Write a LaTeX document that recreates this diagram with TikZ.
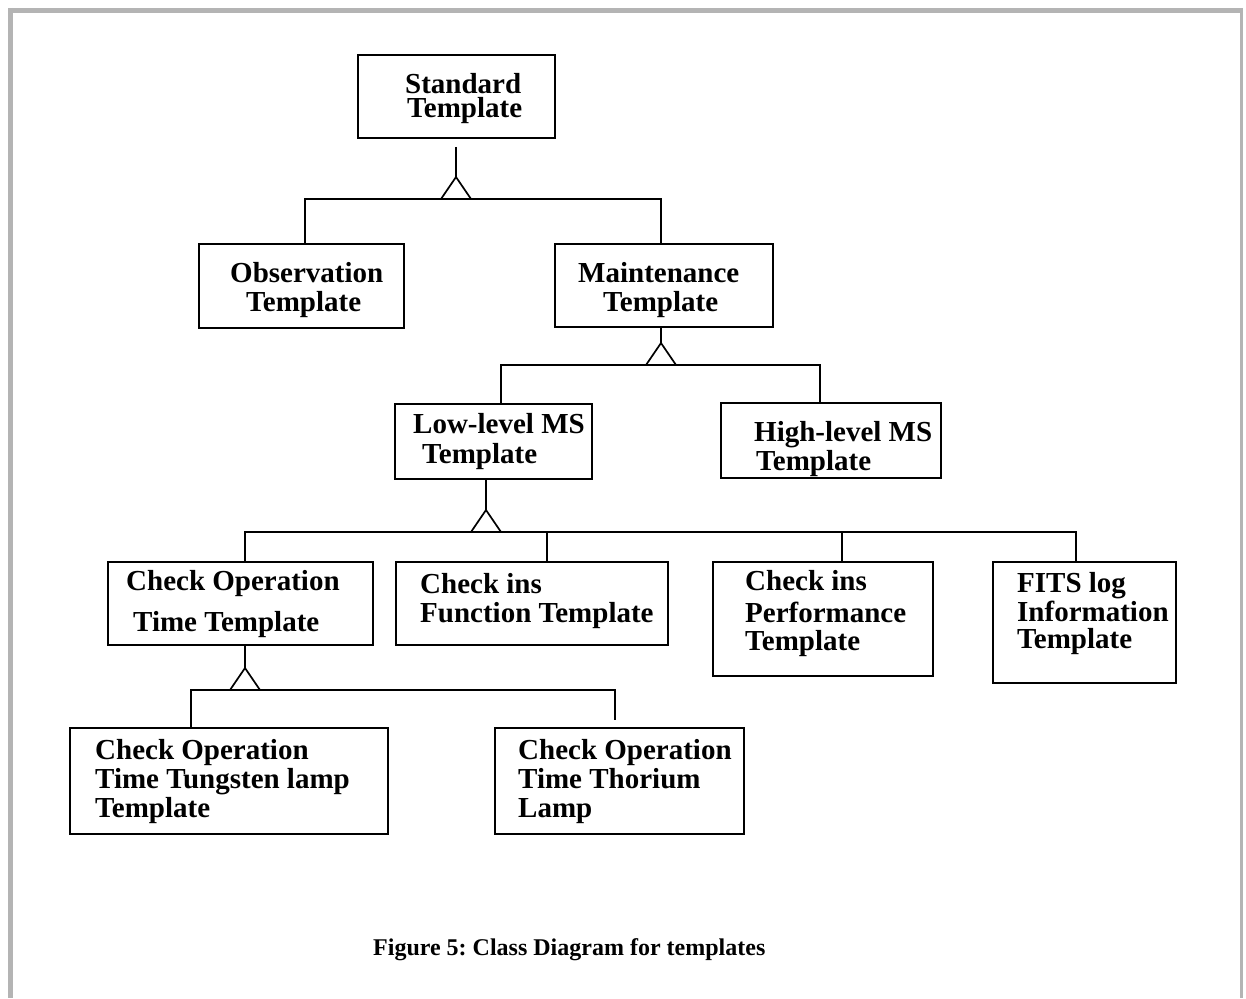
\documentclass[tikz,border=0pt]{standalone}
\usepackage{fontspec}
\setmainfont{Liberation Serif}
\usetikzlibrary{calc}
\frenchspacing
\definecolor{framegray}{RGB}{180,180,180}
\tikzset{
  classbox/.style={draw, line width=1.7pt, rectangle, inner sep=0pt},
  label/.style={anchor=base west, inner sep=0pt, font=\bfseries\fontsize{29}{29}\selectfont},
  captiontext/.style={anchor=base west, inner sep=0pt, font=\bfseries\fontsize{24}{24}\selectfont},
  link/.style={line width=1.7pt},
  inherit/.pic={\draw[link, fill=white] (0,0) -- (-15,22) -- (15,22) -- cycle;}
}
\begin{document}
\begin{tikzpicture}[x=1pt, y=-1pt]
\useasboundingbox (0,0) rectangle (1246,998);
% page frame (top, left and right edges)
\draw[framegray, line width=5pt] (8,10.5) -- (1243,10.5);
\draw[framegray, line width=5pt] (10.5,8) -- (10.5,998);
\draw[framegray, line width=3.5pt] (1241.5,8) -- (1241.5,998);

% class boxes
\node[classbox, minimum width=197pt, minimum height=83pt]  (std)  at (456.5,96.5) {};
\node[classbox, minimum width=205pt, minimum height=84pt]  (obs)  at (301.5,286) {};
\node[classbox, minimum width=218pt, minimum height=83pt]  (mnt)  at (664,285.5) {};
\node[classbox, minimum width=197pt, minimum height=75pt]  (low)  at (493.5,441.5) {};
\node[classbox, minimum width=220pt, minimum height=75pt]  (high) at (831,440.5) {};
\node[classbox, minimum width=265pt, minimum height=83pt]  (cot)  at (240.5,603.5) {};
\node[classbox, minimum width=272pt, minimum height=83pt]  (fun)  at (532,603.5) {};
\node[classbox, minimum width=220pt, minimum height=114pt] (perf) at (823,619) {};
\node[classbox, minimum width=183pt, minimum height=121pt] (fits) at (1084.5,622.5) {};
\node[classbox, minimum width=318pt, minimum height=106pt] (tung) at (229,781) {};
\node[classbox, minimum width=249pt, minimum height=106pt] (thor) at (619.5,781) {};

% class names
\node[label, text depth=0pt] (std1) at (405,93) {Standard};
\node[label, text height=18pt] (std2) at (407,117) {Template};
\node[label] (obs1) at (230,282) {Observation};
\node[label] (obs2) at (246,311) {Template};
\node[label] (mnt1) at (578,282) {Maintenance};
\node[label] (mnt2) at (603,311) {Template};
\node[label] (low1) at (413,433) {Low-level MS};
\node[label] (low2) at (422,463) {Template};
\node[label] (high1) at (754,441) {High-level MS};
\node[label] (high2) at (756,470) {Template};
\node[label] (cot1) at (126,590) {Check Operation};
\node[label] (cot2) at (133,631) {Time Template};
\node[label] (fun1) at (420,593) {Check ins};
\node[label] (fun2) at (420,622) {Function Template};
\node[label] (perf1) at (745,590) {Check ins};
\node[label] (perf2) at (745,622) {Performance};
\node[label] (perf3) at (745,650) {Template};
\node[label] (fits1) at (1017,592) {FITS log};
\node[label] (fits2) at (1017,621) {Information};
\node[label] (fits3) at (1017,648) {Template};
\node[label] (tung1) at (95,759) {Check Operation};
\node[label] (tung2) at (95,788) {Time Tungsten lamp};
\node[label] (tung3) at (95,817) {Template};
\node[label] (thor1) at (518,759) {Check Operation};
\node[label] (thor2) at (518,788) {Time Thorium};
\node[label] (thor3) at (518,817) {Lamp};

% Standard Template generalisation
\coordinate (a1) at (456,177);
\coordinate (b1l) at (305,199);
\coordinate (b1r) at (661,199);
\draw[link] ([yshift=-8pt]std.south -| a1) -- (a1);
\draw[link] (obs.north -| b1l) -- (b1l) -- (b1r) -- (mnt.north -| b1r);
\pic at (a1) {inherit};

% Maintenance Template generalisation
\coordinate (a2) at (661,343);
\coordinate (b2l) at (501,365);
\coordinate (b2r) at (820,365);
\draw[link] (mnt.south -| a2) -- (a2);
\draw[link] (low.north -| b2l) -- (b2l) -- (b2r) -- (high.north -| b2r);
\pic at (a2) {inherit};

% Low-level MS Template generalisation
\coordinate (a3) at (486,510);
\coordinate (b3l) at (245,532);
\coordinate (b3r) at (1076,532);
\coordinate (b3f) at (547,532);
\coordinate (b3p) at (842,532);
\draw[link] (low.south -| a3) -- (a3);
\draw[link] (cot.north -| b3l) -- (b3l) -- (b3r) -- (fits.north -| b3r);
\draw[link] (b3f) -- (fun.north -| b3f);
\draw[link] (b3p) -- (perf.north -| b3p);
\pic at (a3) {inherit};

% Check Operation Time Template generalisation
\coordinate (a4) at (245,668);
\coordinate (b4l) at (191,690);
\coordinate (b4r) at (615,690);
\coordinate (e4) at (615,720);
\draw[link] (cot.south -| a4) -- (a4);
\draw[link] (tung.north -| b4l) -- (b4l) -- (b4r) -- (e4);
\pic at (a4) {inherit};

% caption
\node[captiontext] (cap) at (373,955) {Figure 5: Class Diagram for templates};
\end{tikzpicture}
\end{document}
